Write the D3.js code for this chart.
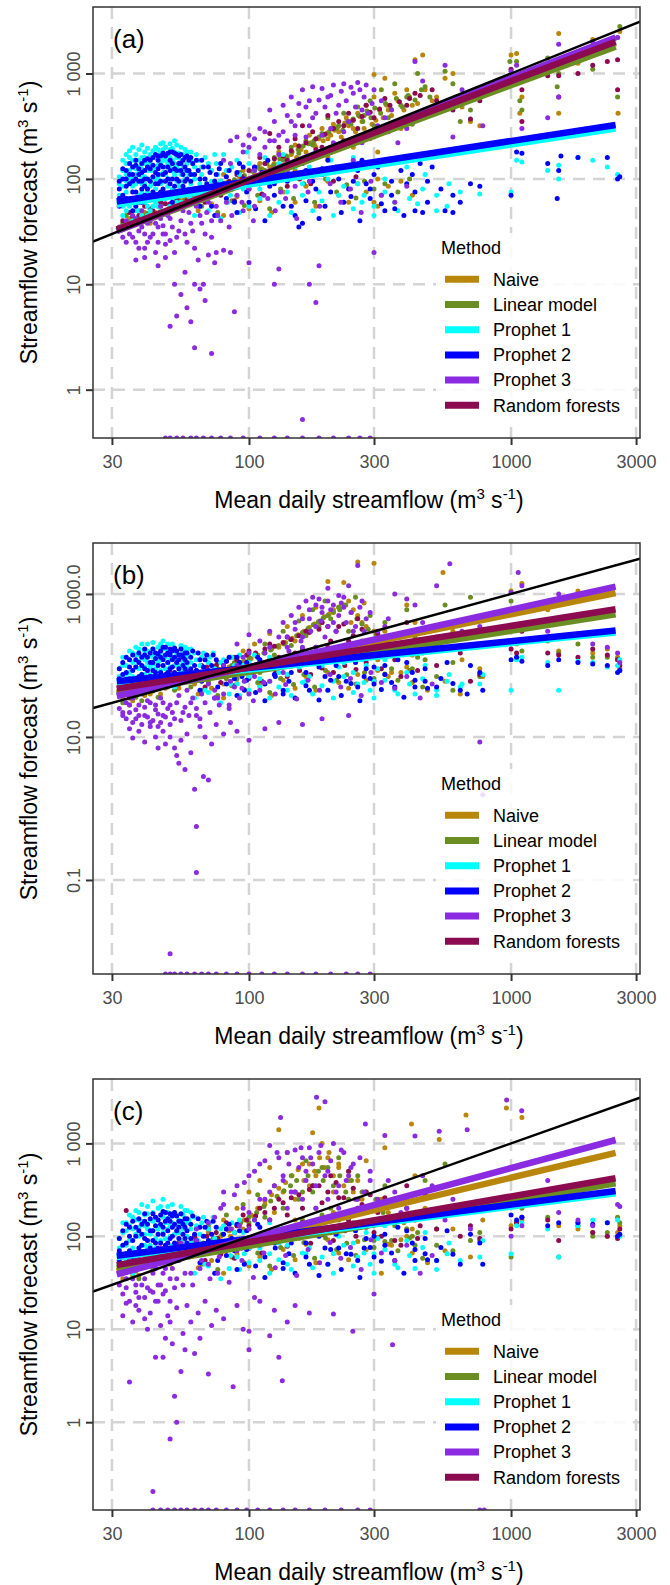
<!DOCTYPE html>
<html>
<head>
<meta charset="utf-8">
<script src="https://d3js.org/d3.v7.min.js"></script>
<style>
  body { margin: 0; background: #fff; }
  text { font-family: "Liberation Sans", Arial, sans-serif; }
</style>
</head>
<body>
<svg id="fig" width="670" height="1585"></svg>
<script>
// ---- categories / ticks ----
var methods = ["Naive", "Linear model", "Prophet 1", "Prophet 2", "Prophet 3", "Random forests"];
var methodColors = ["#B8860B", "#6B8E23", "#00FFFF", "#0000FF", "#8A2BE2", "#8B0A50"];
var drawOrder = [0, 1, 5, 2, 3, 4];

var xTicks = [30, 100, 300, 1000, 3000];
var xTickLabels = ["30", "100", "300", "1000", "3000"];
var yTicksA = [1, 10, 100, 1000], yTickLabelsA = ["1", "10", "100", "1 000"];
var yTicksB = [0.1, 10, 1000], yTickLabelsB = ["0.1", "10.0", "1 000.0"];
var yTicksC = [1, 10, 100, 1000], yTickLabelsC = ["1", "10", "100", "1 000"];

var xDomain = [25.4, 3105];
var yDomainA = [0.348, 4276];
var yDomainB = [0.00484, 5164];
var yDomainC = [0.1135, 4932];

// fitted lines (log-log lm): forecast at x start / x end, method order
var fitX = [31.3, 2506];
var fitA = [[33, 1950], [32, 1800], [57, 300], [61, 325], [32, 2200], [33, 2000]];
var fitB = [[40, 1030], [42, 519], [57, 290], [60, 308], [37.4, 1265], [47.5, 611]];
var fitC = [[42, 790], [45, 373], [60, 290], [61.7, 307], [39, 1088], [49, 422]];

// ---- panel (a) points [mean flow, forecast]; 0 = zero forecast ----
var ptsA_naive = [[33,35],[35,42],[38,40],[40,48],[42,38],[45,55],[48,50],[52,62],[55,58],[60,70],[65,75],[70,66],[75,90],[80,110],[88,95],[95,120],[100,85],[110,140],[120,130],[130,180],[140,160],[150,210],[160,150],[170,260],[180,200],[190,300],[200,240],[210,330],[220,280],[235,380],[250,300],[260,420],[270,350],[280,500],[290,240],[300,600],[300,980],[300,60],[310,55],[310,180],[320,70],[330,900],[340,450],[360,650],[380,300],[400,700],[420,500],[430,1350],[460,1500],[480,420],[520,600],[560,900],[600,1000],[650,480],[700,350],[760,650],[760,320],[1000,1500],[1050,1550],[1080,420],[1100,600],[1380,1200],[1520,2400],[1520,420],[1800,1250],[2050,2100],[2330,1700],[2550,2200],[2560,420],[2600,2500],
  [40,42],[44,48],[50,52],[56,62],[62,65],[68,80],[74,78],[80,90],[85,85],[92,105],[98,100],[105,110],[112,125],[118,115],[125,140],[132,135],[138,150],[145,170],[152,160],[158,190],[165,180],[172,220],[178,210],[185,240],[192,230],[198,270],[205,260],[212,290],[218,310],[225,250],[232,340],[240,320],[248,360],[255,280],[265,390],[275,300],[285,420],[295,330],[305,360],[315,450],[325,380],[335,500],[350,400],[370,550],[390,450],[410,600],[440,520],[470,700],[500,550],[150,120],[200,160],[250,200],[300,250],[350,300],[400,330],
  [64,50],[72,58],[80,45],[90,68],[100,52],[110,62],[122,48],[135,75],[150,60],[165,85],[180,55],[200,95],[220,70],[240,60],[260,90],[280,75],[310,100],[340,85],[380,95],[420,70]];
var ptsA_linear = [[33,38],[34,45],[36,40],[38,50],[40,44],[42,52],[44,46],[47,58],[50,55],[54,65],[58,60],[62,72],[68,80],[72,70],[78,95],[85,88],[92,115],[100,100],[108,130],[115,120],[125,160],[135,150],[145,200],[155,175],[165,230],[175,210],[190,270],[200,380],[215,300],[230,420],[245,330],[260,480],[275,400],[290,550],[300,320],[320,700],[340,380],[360,800],[380,500],[400,600],[420,380],[440,1000],[470,750],[520,450],[560,1050],[600,800],[640,350],[700,450],[760,700],[990,1300],[1050,1300],[1080,550],[1100,450],[1380,1400],[1500,750],[1520,1000],[1800,1500],[2050,1100],[2330,2000],[2550,600],[2600,2800],
  [41,47],[46,55],[52,58],[57,66],[63,70],[69,75],[75,85],[82,92],[88,98],[96,108],[103,118],[110,125],[117,140],[124,135],[131,155],[139,165],[146,180],[154,190],[161,205],[169,215],[177,230],[185,250],[193,260],[202,280],[210,300],[220,320],[228,290],[238,350],[250,370],[262,400],[272,350],[282,440],[292,380],[302,470],[318,420],[332,520],[348,460],[365,580],[385,480],[405,620],[430,560],[455,700],[490,600],[160,140],[210,190],[260,230],[310,280],[360,310],[420,330],
  [66,55],[76,48],[86,62],[96,56],[108,70],[120,52],[132,80],[148,65],[162,90],[178,60],[196,100],[216,75],[236,88],[256,66],[276,95],[300,80],[330,90],[370,75],[410,100]];
var ptsA_p1 = [[32,60],[32,90],[33,45],[33,120],[34,75],[34,140],[35,55],[35,100],[35,160],[36,40],[36,85],[36,130],[37,65],[37,110],[37,170],[38,50],[38,95],[38,150],[39,75],[39,125],[40,60],[40,105],[40,180],[41,45],[41,140],[42,85],[42,120],[43,70],[43,160],[44,100],[44,200],[45,55],[45,135],[46,90],[46,175],[47,115],[47,220],[48,65],[48,150],[49,100],[50,130],[50,190],[51,80],[52,230],[52,110],[53,160],[54,70],[54,140],[55,200],[56,95],[57,120],[58,180],[59,80],[60,150],[61,110],[62,60],[63,170],[65,90],[66,130],[68,160],[70,75],[72,120],[75,140],[78,95],[80,170],[83,60],[86,130],[90,150],[95,80],[98,180],[105,120],[110,65],[115,160],[120,100],[130,140],[140,75],[150,130],[160,90],[175,170],[190,110],[205,150],[220,70],[240,130],[260,90],[280,140],[300,55],[330,100],[360,60],[400,130],[440,58],[470,110],[520,70],[570,55],[640,75],[760,72],[1000,75],[1050,150],[1100,145],[1380,120],[1520,100],[1520,135],[1800,160],[2050,150],[2330,130],[2550,110],
  [32,70],[32,105],[33,55],[33,85],[33,150],[34,50],[34,95],[34,110],[34,170],[35,65],[35,120],[35,185],[36,60],[36,100],[36,150],[36,200],[37,50],[37,90],[37,125],[37,150],[38,70],[38,115],[38,130],[38,190],[39,45],[39,90],[39,105],[39,160],[39,210],[40,70],[40,90],[40,140],[40,160],[41,55],[41,75],[41,120],[41,195],[42,50],[42,100],[42,140],[42,170],[43,55],[43,90],[43,120],[43,185],[44,60],[44,80],[44,130],[44,160],[45,70],[45,100],[45,155],[45,190],[46,50],[46,110],[46,140],[46,215],[47,70],[47,95],[47,150],[47,190],[48,50],[48,110],[48,130],[48,200],[49,70],[49,85],[49,140],[49,170],[50,55],[50,100],[50,160],[50,215],[51,65],[51,120],[51,150],[51,195],[52,75],[52,140],[52,180],[53,60],[53,95],[53,130],[53,210],[54,85],[54,120],[54,175],[55,60],[55,110],[55,150],[56,70],[56,130],[56,170],[57,55],[57,100],[57,190],[58,75],[58,140],[59,110],[59,160],[60,65],[60,90],[60,180],[62,100],[62,130],[64,75],[64,150],[66,110],[68,80],[70,140],[72,95],[74,170],[76,110],[82,120],[88,90],[92,110],[100,140],[108,90],[125,110],[135,170],[145,100],[170,130],[185,75],[200,100],[230,120],[250,160],[270,60],
  [62,45],[70,50],[78,42],[85,70],[92,48],[100,55],[110,80],[120,45],[130,60],[145,48],[160,70],[175,50],[190,62],[210,45],[230,85],[250,52],[275,70],[300,45],[330,75],[370,50],[410,65],[460,80],[520,50],[580,90]];
var ptsA_p2 = [[32,55],[32,80],[33,100],[34,65],[34,120],[35,90],[36,50],[36,110],[37,75],[37,135],[38,95],[39,60],[39,115],[40,85],[40,150],[41,100],[42,70],[42,125],[43,160],[44,90],[45,165],[45,110],[46,75],[47,170],[47,130],[48,95],[49,175],[50,120],[50,180],[51,60],[52,175],[53,100],[54,140],[55,170],[56,85],[57,160],[58,120],[59,150],[60,95],[61,140],[62,75],[64,120],[66,150],[68,100],[70,130],[72,55],[75,110],[78,140],[80,90],[84,120],[88,60],[92,140],[96,100],[100,60],[105,130],[110,90],[118,150],[125,70],[135,110],[145,55],[155,35],[160,38],[165,120],[180,80],[195,55],[210,120],[230,60],[250,95],[270,150],[290,65],[300,110],[330,50],[360,52],[400,90],[430,50],[460,48],[500,130],[560,50],[600,48],[640,60],[700,90],[760,85],[1000,70],[1050,180],[1100,175],[1380,140],[1500,65],[1520,120],[1550,165],[1800,160],[2330,160],[2550,100],[2600,105],
  [32,65],[32,95],[33,70],[33,125],[34,85],[34,100],[35,60],[35,110],[35,140],[36,75],[36,95],[36,130],[37,55],[37,100],[37,150],[38,60],[38,110],[38,125],[39,80],[39,95],[39,140],[40,70],[40,100],[40,120],[41,80],[41,130],[41,155],[42,95],[42,150],[43,75],[43,105],[43,135],[44,65],[44,115],[44,170],[45,90],[45,125],[45,150],[46,95],[46,135],[46,165],[47,80],[47,110],[47,175],[48,115],[48,165],[49,100],[49,130],[50,90],[50,150],[51,100],[51,140],[51,180],[52,85],[52,125],[53,120],[53,170],[54,95],[54,165],[55,120],[55,140],[56,110],[56,150],[57,95],[57,130],[58,100],[58,165],[59,120],[60,110],[60,160],[62,110],[63,150],[65,100],[67,130],[69,90],[71,115],[74,95],[77,125],[82,105],[86,80],[90,115],[95,130],[102,100],[112,115],[120,85],[130,125],[140,95],[150,140],[160,110],[175,95],[190,125],[200,150],[220,100],[240,80],[260,120],[280,90],[310,130],[350,95],[380,120],[420,110],[450,140],[480,95],
  [65,55],[74,45],[82,65],[90,48],[98,75],[106,52],[115,40],[125,90],[135,55],[150,45],[165,62],[185,42],[205,75],[225,48],[245,68],[265,40],[290,80],[320,58],[350,70],[390,45],[430,75],[480,60],[540,80],[600,70]];
var ptsA_p3 = [[32,35],[33,28],[34,40],[35,30],[36,45],[37,25],[38,32],[39,50],[40,22],[41,38],[42,28],[43,45],[44,20],[45,35],[46,55],[47,30],[48,24],[50,42],[52,20],[54,32],[56,50],[58,25],[60,38],[62,22],[65,45],[68,30],[70,60],[72,40],[37,17],[40,18],[45,15],[48,18],[50,4],[52,10],[53,5],[55,8],[57,13],[58,6],[60,4.4],[62,2.5],[62,10],[64,17],[65,9],[67,10],[68,7],[70,19],[72,2.2],[74,16],[75,20],[80,21],[85,20],[88,5.5],[100,16],[125,10],[130,14],[170,10],[180,6.7],[185,15],[300,20],[160,0.52],[75,80],[80,150],[85,230],[90,250],[95,180],[100,260],[105,120],[110,300],[115,200],[120,450],[125,350],[130,260],[135,500],[140,400],[145,600],[150,320],[155,520],[160,700],[165,250],[170,550],[175,750],[180,420],[190,720],[200,600],[205,300],[210,780],[220,500],[230,800],[240,350],[250,650],[260,820],[270,450],[280,780],[290,250],[300,700],[320,550],[330,380],[350,450],[380,150],[400,300],[430,1300],[460,850],[500,450],[560,1200],[600,250],[650,700],[700,190],[780,320],[1000,1050],[1050,1200],[1100,300],[1380,380],[1520,1900],[1520,600],[2050,2000],[2330,1800],[2550,2200],[48,0],[50,0],[53,0],[56,0],[60,0],[63,0],[67,0],[72,0],[78,0],[85,0],[95,0],[110,0],[125,0],[140,0],[160,0],[185,0],[210,0],[240,0],[265,0],[290,0],
  [33,33],[34,25],[35,38],[36,28],[37,42],[38,22],[39,35],[40,30],[41,25],[42,40],[43,30],[44,38],[45,25],[46,42],[47,36],[48,30],[49,45],[50,26],[51,35],[53,28],[55,40],[57,30],[59,48],[61,32],[63,55],[66,38],[69,48],[72,28],[75,55],[78,40],[82,60],[86,45],[90,70],[95,50],[100,80],[105,55],[110,90],[118,65],[125,100],[132,75],[140,120],[150,85],[160,140],[170,95],[180,160],[190,110],[200,180],[215,130],[230,200],[250,150],[270,220],[85,140],[95,210],[105,240],[115,280],[125,230],[135,280],[145,350],[155,400],[165,480],[175,380],[185,560],[195,480],[205,620],[215,420],[225,680],[235,550],[245,740],[255,480],[265,700],[275,600],[285,420],[295,520],[310,320],[340,280],[370,220],[150,260],[170,320],[190,260],[210,220],[230,280],[100,200],[110,170],[120,230],[130,170],[140,230],
  [76,45],[84,35],[94,60],[104,40],[114,70],[126,50],[138,65],[152,42],[168,75],[186,55],[204,90],[224,60],[244,80],[268,48],[292,95],[320,70],[360,60],[400,85]];
var ptsA_rf = [[33,40],[35,48],[38,45],[40,55],[43,50],[46,60],[50,58],[55,70],[60,66],[65,80],[72,85],[80,75],[90,110],[100,120],[110,160],[120,270],[130,200],[140,150],[150,240],[160,320],[175,280],[190,200],[200,400],[220,350],[240,420],[260,300],[280,500],[300,380],[330,580],[360,330],[400,500],[430,650],[460,400],[520,550],[600,450],[700,370],[760,550],[1000,1100],[1100,700],[1100,350],[1380,950],[1520,600],[1520,950],[1800,1000],[2050,1200],[2330,1300],[2550,1350],[2550,700],
  [36,44],[42,52],[48,58],[53,64],[58,62],[63,74],[68,78],[76,88],[84,95],[94,105],[105,125],[115,140],[125,155],[135,165],[145,185],[155,205],[165,220],[180,240],[195,265],[210,300],[230,320],[250,360],[270,390],[290,430],[315,460],[345,500],[375,540],[410,580],[450,620],[500,700],[180,190],[230,230],[280,270],
  [68,60],[78,70],[88,62],[100,80],[112,72],[126,95],[140,85],[156,100],[172,90],[190,110],[210,95],[232,120],[256,105],[280,130]];

// ---- panel (b) points ----
var ptsB_naive = [[33,35],[35,28],[38,45],[40,38],[43,55],[46,40],[50,60],[54,48],[58,70],[62,55],[66,80],[70,60],[75,100],[80,70],[85,130],[90,95],[95,160],[100,75],[105,200],[110,120],[120,280],[130,180],[140,350],[150,220],[160,500],[170,300],[180,650],[190,400],[200,1500],[210,550],[230,1450],[245,400],[260,2800],[275,750],[300,2700],[310,120],[330,300],[360,200],[400,700],[430,400],[460,150],[520,250],[550,2000],[600,300],[650,120],[700,450],[760,90],[780,70],[1000,1100],[1050,200],[1100,1400],[1380,600],[1520,160],[1800,1100],[2050,150],[2330,170],[2550,130],[2600,90],
  [36,32],[42,40],[48,48],[54,56],[60,62],[66,70],[72,78],[78,88],[84,95],[90,105],[96,115],[102,125],[108,140],[115,150],[122,170],[130,190],[138,210],[146,240],[154,270],[162,300],[170,340],[178,380],[186,420],[194,480],[202,520],[210,600],[220,650],[230,700],[240,800],[250,600],[260,500],[270,400],[280,350],[300,300],[320,250],[340,220],[360,180],[390,160],[420,140],[150,100],[180,130],[210,160],[240,200],[270,180],[120,90],[100,70],[80,55],[350,80],[400,95],[450,200],
  [64,40],[72,48],[80,35],[90,56],[100,42],[110,52],[122,38],[135,62],[150,48],[165,70],[180,45],[200,80],[220,58],[240,48],[260,75],[280,62],[310,85],[340,70],[380,80],[420,58],[480,45],[560,60],[640,40]];
var ptsB_linear = [[33,30],[36,38],[39,32],[42,48],[45,36],[48,55],[52,45],[56,62],[60,50],[65,72],[70,58],[76,90],[82,65],[88,110],[95,85],[100,130],[108,95],[115,200],[125,140],[135,300],[145,190],[155,420],[165,260],[175,600],[185,350],[195,800],[205,450],[220,650],[240,300],[255,900],[270,220],[290,500],[300,150],[330,400],[360,140],[400,600],[430,250],[470,120],[520,200],[560,700],[600,110],[650,180],[700,900],[760,70],[1000,800],[1050,130],[1100,160],[1380,220],[1520,150],[1800,200],[2050,130],[2330,130],[2550,120],[2600,85],
  [37,36],[43,44],[49,50],[55,58],[61,64],[67,72],[73,80],[79,86],[86,100],[93,110],[100,120],[107,135],[114,150],[121,165],[128,185],[136,200],[144,230],[152,260],[160,290],[168,330],[176,370],[184,410],[192,460],[200,500],[210,560],[222,600],[234,700],[246,550],[258,450],[270,380],[285,320],[305,270],[325,230],[345,190],[370,170],[400,150],[440,130],[130,100],[160,130],[190,150],[220,170],[250,190],[110,80],[90,65],[350,90],[420,90],
  [66,45],[76,38],[86,52],[96,46],[108,58],[120,42],[132,66],[148,54],[162,75],[178,50],[196,85],[216,62],[236,74],[256,55],[276,80],[300,66],[330,76],[370,62],[410,85],[460,50],[520,70],[600,45]];
var ptsB_p1 = [[32,40],[32,70],[33,100],[34,55],[34,130],[35,80],[35,160],[36,45],[36,110],[37,65],[37,180],[38,90],[38,140],[39,55],[39,200],[40,75],[40,120],[41,160],[42,50],[42,95],[43,130],[43,210],[44,70],[45,110],[45,180],[46,60],[47,140],[47,220],[48,90],[49,160],[50,70],[50,120],[51,200],[52,50],[53,150],[54,100],[55,190],[56,80],[57,130],[58,170],[59,60],[60,110],[62,150],[64,80],[66,130],[68,45],[70,110],[73,150],[76,70],[80,120],[84,40],[88,100],[92,140],[96,60],[100,110],[110,50],[120,130],[130,80],[140,45],[150,110],[165,60],[180,130],[200,45],[220,95],[240,150],[260,55],[280,100],[300,60],[330,120],[360,45],[400,80],[430,40],[470,100],[520,45],[570,60],[640,50],[760,55],[780,75],[1000,45],[1050,120],[1100,130],[1380,110],[1520,45],[1800,115],[2050,110],[2330,95],[2550,100],[2600,120],
  [32,55],[32,90],[33,45],[33,130],[34,75],[34,100],[35,50],[35,120],[36,70],[36,150],[37,45],[37,95],[37,140],[38,60],[38,115],[38,170],[39,75],[39,135],[40,50],[40,95],[40,160],[41,70],[41,110],[41,200],[42,75],[42,140],[43,55],[43,105],[43,170],[44,90],[44,150],[45,60],[45,140],[46,85],[46,120],[46,200],[47,60],[47,100],[47,170],[48,70],[48,130],[49,55],[49,110],[49,200],[50,95],[50,150],[51,75],[51,130],[52,100],[52,170],[53,70],[53,120],[54,60],[54,140],[55,85],[55,130],[56,110],[56,160],[57,70],[57,180],[58,95],[58,130],[59,140],[60,80],[60,170],[62,70],[63,120],[65,100],[67,150],[69,70],[71,130],[74,90],[78,110],[82,75],[86,130],[90,55],[95,100],[100,70],[105,140],[112,90],[120,60],[130,110],[140,75],[155,95],[170,70],[190,100],[210,60],[230,110],[250,80],[270,120],[290,45],[310,90],
  [62,35],[70,42],[78,30],[85,55],[92,38],[100,45],[110,65],[120,35],[130,50],[145,38],[160,58],[175,40],[190,52],[210,35],[230,70],[250,42],[275,58],[300,35],[330,62],[370,40],[410,55],[460,65],[520,38],[580,75],[650,55]];
var ptsB_p2 = [[32,50],[33,75],[34,60],[35,95],[36,50],[37,120],[38,70],[39,100],[40,140],[41,60],[42,110],[43,85],[44,150],[45,70],[46,160],[47,100],[48,180],[49,80],[50,170],[51,120],[52,175],[53,65],[54,140],[55,170],[56,100],[57,150],[58,80],[60,130],[62,100],[64,150],[66,60],[68,120],[70,85],[73,140],[76,50],[80,100],[84,130],[88,65],[92,110],[96,45],[100,90],[108,130],[115,55],[125,100],[135,40],[145,80],[155,120],[170,45],[185,95],[200,45],[220,70],[240,120],[260,50],[280,90],[300,55],[330,100],[360,50],[400,110],[430,50],[470,90],[520,50],[570,110],[640,45],[700,100],[760,80],[780,45],[1000,120],[1050,130],[1100,115],[1380,100],[1520,120],[1800,110],[2050,105],[2330,100],[2550,80],[2600,85],
  [32,65],[32,90],[33,55],[33,110],[34,80],[34,130],[35,65],[35,120],[36,85],[36,140],[37,60],[37,95],[38,110],[38,150],[39,75],[39,130],[40,90],[40,170],[41,85],[41,130],[42,70],[42,150],[43,110],[43,170],[44,80],[44,125],[45,100],[45,145],[46,80],[46,130],[47,120],[47,180],[48,75],[48,140],[49,110],[49,150],[50,90],[50,140],[51,95],[51,160],[52,80],[52,130],[53,110],[53,160],[54,90],[54,120],[55,75],[55,140],[56,130],[57,90],[57,120],[58,110],[58,150],[60,90],[61,160],[63,85],[65,120],[67,95],[69,140],[72,100],[75,120],[78,80],[82,115],[86,90],[90,130],[94,70],[98,110],[104,80],[110,120],[118,95],[126,70],[134,115],[142,60],[150,100],[165,80],[180,110],[195,70],[215,100],[235,60],[255,110],[275,70],[300,95],[330,75],[370,120],[420,80],[470,60],
  [65,45],[74,35],[82,55],[90,38],[98,62],[106,42],[115,32],[125,75],[135,45],[150,35],[165,52],[185,33],[205,62],[225,38],[245,56],[265,32],[290,66],[320,46],[350,58],[390,36],[430,62],[480,48],[540,66],[600,56],[680,40]];
var ptsB_p3 = [[32,25],[33,20],[34,30],[35,22],[36,35],[37,18],[38,28],[39,40],[40,20],[41,32],[42,16],[43,45],[44,24],[45,14],[46,35],[47,20],[48,50],[50,28],[52,18],[54,38],[56,22],[58,45],[60,30],[63,20],[66,40],[70,55],[74,35],[78,70],[35,13],[36,9.7],[38,12],[40,8.5],[42,14],[44,10],[45,7],[47,12],[48,8],[50,10],[52,7],[53,5.5],[54,4.3],[55,9],[57,3.5],[58,11],[60,6],[62,1.86],[63,0.56],[63,0.127],[65,14],[67,2.8],[68,10],[70,2.5],[72,8],[75,15],[80,11],[85,16],[90,12],[100,9],[115,13],[130,16],[160,15],[190,18],[240,20],[50,0.0093],[780,1.55],[760,8.5],[80,100],[85,60],[90,200],[95,130],[100,270],[105,90],[110,220],[115,150],[120,300],[125,110],[130,250],[135,400],[140,180],[145,500],[150,320],[155,650],[160,250],[165,800],[170,450],[175,900],[180,350],[185,850],[190,550],[200,1200],[210,400],[220,950],[230,650],[240,1300],[250,300],[260,2500],[270,800],[280,450],[300,200],[330,350],[360,1000],[400,850],[430,700],[460,400],[520,1300],[560,250],[584,2650],[650,300],[700,180],[760,350],[1000,1050],[1065,2000],[1100,1300],[1380,300],[1520,1000],[1800,900],[2050,200],[2330,180],[2550,150],[2600,110],[48,0],[50,0],[52,0],[55,0],[58,0],[62,0],[66,0],[70,0],[75,0],[82,0],[90,0],[100,0],[112,0],[125,0],[140,0],[160,0],[180,0],[205,0],[235,0],[260,0],[290,0],
  [33,22],[34,18],[35,28],[36,16],[37,24],[38,20],[39,15],[40,26],[41,19],[42,30],[43,17],[44,28],[45,21],[46,16],[47,30],[48,19],[49,25],[50,15],[51,22],[53,30],[55,17],[57,26],[59,20],[61,35],[63,25],[65,18],[68,30],[71,22],[74,45],[77,28],[80,40],[84,25],[88,50],[92,35],[96,60],[100,40],[105,70],[110,45],[115,90],[120,60],[128,120],[135,80],[142,160],[150,100],[158,220],[165,130],[172,300],[180,180],[188,420],[195,250],[205,600],[215,300],[225,750],[235,400],[245,550],[255,350],[265,650],[275,300],[290,550],[310,300],[340,450],[380,250],[150,400],[160,450],[170,600],[180,700],[190,650],[200,800],[210,700],[220,500],[230,900],[160,180],[200,350],[140,250],[120,180],[100,150],[90,100],
  [76,35],[84,28],[94,48],[104,32],[114,58],[126,40],[138,54],[152,34],[168,62],[186,45],[204,75],[224,50],[244,66],[268,38],[292,80],[320,58],[360,48],[400,70],[450,35],[500,55]];
var ptsB_rf = [[33,45],[35,35],[38,60],[40,42],[43,70],[46,50],[50,80],[54,55],[58,90],[62,65],[66,100],[70,75],[76,110],[82,85],[88,130],[95,95],[100,160],[110,110],[120,200],[130,130],[140,250],[150,150],[165,300],[180,180],[190,400],[205,220],[220,350],[240,140],[260,450],[280,160],[300,60],[330,250],[360,120],[400,400],[430,180],[470,300],[520,100],[570,350],[640,150],[700,60],[760,75],[1000,170],[1050,150],[1100,300],[1380,150],[1520,140],[1800,130],[2050,170],[2330,140],[2550,120],[2600,100],
  [37,50],[42,58],[47,66],[52,72],[57,78],[63,85],[69,95],[75,100],[82,115],[90,120],[98,140],[106,150],[115,170],[125,185],[135,210],[145,230],[155,260],[170,290],[185,320],[200,350],[215,300],[230,380],[250,260],[270,320],[290,220],[310,280],[340,200],[370,260],[400,170],[450,230],[120,120],[160,170],[200,180],[240,220],
  [68,50],[78,58],[88,52],[100,66],[112,60],[126,78],[140,70],[156,85],[172,75],[190,92],[210,80],[232,100],[256,88],[280,110],[320,90],[380,70],[440,85]];

// ---- panel (c) points ----
var ptsC_naive = [[33,35],[35,45],[38,38],[40,55],[43,42],[46,65],[50,50],[54,75],[58,60],[62,90],[66,70],[70,110],[75,80],[80,150],[85,100],[90,200],[95,120],[100,300],[105,160],[110,400],[115,220],[120,550],[125,180],[130,1400],[135,300],[140,800],[150,250],[160,600],[170,350],[175,1300],[180,450],[185,2400],[190,1000],[200,700],[210,300],[220,550],[240,400],[260,200],[280,650],[300,150],[320,40],[330,900],[360,250],[400,120],[417,1620],[430,450],[470,200],[532,1100],[560,350],[600,120],[673,2020],[700,60],[760,90],[780,150],[960,2400],[1000,130],[1100,1900],[1100,150],[1380,300],[1520,130],[1800,120],[2050,110],[2330,100],[2550,110],[2600,130],
  [36,38],[42,48],[48,55],[54,64],[60,70],[66,80],[72,90],[78,100],[84,115],[90,130],[96,150],[102,170],[108,200],[115,240],[122,280],[130,330],[138,380],[146,450],[154,520],[162,400],[170,600],[178,500],[186,700],[194,550],[202,800],[210,450],[220,600],[230,350],[240,500],[250,300],[260,400],[270,250],[280,300],[300,200],[320,250],[340,180],[360,160],[390,140],[420,120],[150,150],[180,200],[210,180],[240,150],[270,130],[120,110],[100,90],[80,70],[350,80],[400,100],[450,180],
  [64,46],[72,55],[80,40],[90,64],[100,48],[110,60],[122,44],[135,72],[150,56],[165,82],[180,52],[200,92],[220,66],[240,56],[260,88],[280,72],[310,98],[340,82],[380,92],[420,66],[480,52],[560,70]];
var ptsC_linear = [[33,40],[35,50],[38,35],[40,60],[43,45],[46,70],[50,55],[54,85],[58,65],[62,100],[66,75],[70,130],[76,90],[82,170],[88,110],[95,220],[100,140],[108,280],[115,160],[125,350],[135,200],[145,450],[155,250],[165,650],[175,300],[190,550],[205,200],[220,700],[240,250],[260,450],[280,180],[300,90],[330,350],[360,130],[400,250],[430,80],[470,400],[520,120],[560,600],[600,70],[650,180],[700,90],[760,110],[1000,60],[1050,140],[1100,200],[1380,160],[1520,60],[1800,140],[2050,100],[2330,110],[2550,160],[2600,140],
  [37,42],[43,52],[49,58],[55,68],[61,76],[67,85],[73,95],[79,105],[86,120],[93,140],[100,160],[107,180],[114,210],[121,240],[128,270],[136,310],[144,350],[152,400],[160,300],[168,450],[176,350],[184,500],[192,400],[200,550],[210,350],[222,450],[234,300],[246,400],[258,250],[270,300],[285,200],[305,250],[325,180],[345,150],[370,160],[400,120],[440,110],[130,120],[160,150],[190,170],[220,150],[250,140],[110,100],[90,80],[350,90],[420,100],
  [66,50],[76,44],[86,60],[96,52],[108,66],[120,48],[132,76],[148,62],[162,86],[178,58],[196,96],[216,72],[236,84],[256,62],[276,92],[300,76],[330,88],[370,70],[410,96],[460,58],[520,80]];
var ptsC_p1 = [[32,45],[32,75],[33,110],[34,55],[34,140],[35,90],[35,170],[36,40],[36,120],[37,65],[37,190],[38,100],[38,150],[39,55],[39,220],[40,80],[40,130],[41,175],[42,60],[42,105],[43,145],[43,240],[44,75],[45,120],[45,200],[46,65],[47,160],[47,250],[48,95],[49,180],[50,75],[50,130],[51,220],[52,55],[53,170],[54,110],[55,210],[56,85],[57,140],[58,190],[59,65],[60,120],[62,160],[64,90],[66,140],[68,50],[70,120],[73,160],[76,75],[80,130],[84,45],[88,110],[92,150],[96,65],[100,120],[110,55],[120,140],[130,85],[140,50],[150,120],[165,65],[180,140],[200,50],[220,100],[240,160],[260,60],[280,110],[300,65],[330,130],[360,50],[400,90],[430,45],[470,110],[520,55],[570,65],[640,55],[760,60],[780,90],[1000,65],[1050,130],[1100,140],[1380,120],[1520,60],[1800,130],[2050,150],[2330,140],[2550,150],[2600,100],
  [32,60],[32,95],[33,50],[33,140],[34,80],[34,115],[35,60],[35,130],[36,75],[36,160],[37,50],[37,105],[37,150],[38,65],[38,125],[38,180],[39,80],[39,145],[40,55],[40,105],[40,170],[41,75],[41,120],[41,210],[42,80],[42,150],[43,60],[43,115],[43,180],[44,95],[44,160],[45,65],[45,150],[46,90],[46,130],[46,210],[47,65],[47,110],[47,180],[48,75],[48,140],[49,60],[49,120],[49,210],[50,100],[50,160],[51,80],[51,140],[52,105],[52,180],[53,75],[53,130],[54,65],[54,150],[55,90],[55,140],[56,120],[56,170],[57,75],[57,190],[58,100],[58,140],[59,150],[60,85],[60,180],[62,75],[63,130],[65,105],[67,160],[69,75],[71,140],[74,95],[78,120],[82,80],[86,140],[90,60],[95,110],[100,75],[105,150],[112,95],[120,65],[130,120],[140,80],[155,100],[170,75],[190,110],[210,65],[230,120],[250,85],[270,130],[290,50],[310,95],
  [62,40],[70,48],[78,35],[85,62],[92,44],[100,52],[110,75],[120,40],[130,56],[145,44],[160,66],[175,46],[190,60],[210,40],[230,80],[250,48],[275,66],[300,40],[330,72],[370,46],[410,62],[460,76],[520,44],[580,85]];
var ptsC_p2 = [[32,55],[33,80],[34,65],[35,100],[36,55],[37,125],[38,75],[39,105],[40,145],[41,65],[42,115],[43,90],[44,160],[45,75],[46,170],[47,105],[48,180],[49,85],[50,175],[51,125],[52,180],[53,70],[54,145],[55,175],[56,105],[57,155],[58,85],[60,135],[62,105],[64,155],[66,65],[68,125],[70,90],[73,145],[76,55],[80,105],[84,135],[88,70],[92,115],[96,50],[100,95],[108,135],[115,60],[125,105],[135,45],[145,85],[155,125],[170,50],[185,100],[200,50],[220,75],[240,125],[260,55],[280,95],[300,60],[330,105],[360,55],[400,115],[430,55],[470,95],[520,55],[570,115],[640,50],[700,105],[760,85],[780,50],[1000,170],[1050,150],[1100,160],[1380,130],[1520,140],[1800,140],[2050,135],[2330,140],[2550,100],[2600,105],
  [32,70],[32,95],[33,60],[33,115],[34,85],[34,135],[35,70],[35,125],[36,90],[36,145],[37,65],[37,100],[38,115],[38,155],[39,80],[39,135],[40,95],[40,175],[41,90],[41,135],[42,75],[42,155],[43,115],[43,175],[44,85],[44,130],[45,105],[45,150],[46,85],[46,135],[47,125],[47,185],[48,80],[48,145],[49,115],[49,155],[50,95],[50,145],[51,100],[51,165],[52,85],[52,135],[53,115],[53,165],[54,95],[54,125],[55,80],[55,145],[56,135],[57,95],[57,125],[58,115],[58,155],[60,95],[61,165],[63,90],[65,125],[67,100],[69,145],[72,105],[75,125],[78,85],[82,120],[86,95],[90,135],[94,75],[98,115],[104,85],[110,125],[118,100],[126,75],[134,120],[142,65],[150,105],[165,85],[180,115],[195,75],[215,105],[235,65],[255,115],[275,75],[300,100],[330,80],[370,125],[420,85],[470,65],
  [65,52],[74,40],[82,62],[90,44],[98,72],[106,48],[115,36],[125,85],[135,52],[150,40],[165,60],[185,38],[205,72],[225,44],[245,64],[265,36],[290,76],[320,54],[350,66],[390,40],[430,72],[480,56],[540,76],[600,64]];
var ptsC_p3 = [[32,30],[33,45],[34,28],[35,55],[36,35],[37,25],[38,60],[39,30],[40,22],[41,50],[42,26],[43,40],[44,20],[45,65],[46,30],[47,24],[48,45],[50,35],[52,28],[54,55],[56,30],[58,70],[60,40],[63,90],[66,55],[70,140],[74,75],[78,200],[33,14],[34,19],[35,2.7],[36,12],[37,18],[38,16],[40,13],[41,10],[42,15],[43,0.18],[44,5],[45,20],[46,11],[47,5],[48,8],[49,14],[50,0.66],[50,12],[51,7],[52,1.9],[53,1.0],[53,17],[55,3.5],[56,9],[57,6],[58,18],[60,12],[62,5.5],[64,15],[65,8],[68,20],[70,3.3],[72,11],[75,16],[80,13],[87,2.4],[90,18],[95,10],[100,6],[100,9.5],[105,22],[110,20],[120,8.5],[125,16],[130,5],[134,2.8],[140,12],[150,18],[170,15],[210,14.6],[249,9.5],[353,6.8],[300,24],[80,300],[85,120],[90,350],[95,200],[100,450],[105,150],[110,600],[115,250],[120,950],[125,350],[130,700],[132,1900],[135,450],[140,800],[145,300],[150,850],[155,550],[160,700],[165,400],[170,900],[175,600],[181,3140],[185,800],[195,2800],[200,500],[210,1000],[220,350],[230,800],[240,450],[250,600],[260,250],[278,1620],[290,400],[300,150],[330,1220],[360,300],[400,200],[430,1200],[460,450],[500,350],[532,1350],[560,150],[600,250],[680,1400],[700,120],[780,200],[962,2940],[1000,100],[1098,2250],[1100,130],[1380,400],[1520,180],[1800,150],[2050,130],[2550,220],[2600,210],[43,0],[46,0],[49,0],[52,0],[55,0],[58,0],[62,0],[66,0],[70,0],[75,0],[82,0],[90,0],[98,0],[108,0],[120,0],[135,0],[150,0],[170,0],[195,0],[225,0],[260,0],[290,0],[760,0],[790,0],
  [33,24],[34,35],[35,20],[36,45],[37,30],[38,22],[39,50],[40,35],[41,28],[42,60],[43,25],[44,45],[45,30],[46,75],[47,40],[48,26],[49,55],[50,20],[51,45],[53,35],[55,85],[57,40],[59,60],[61,30],[63,120],[65,45],[68,80],[71,35],[74,160],[77,60],[80,220],[84,90],[88,280],[92,130],[96,380],[100,180],[105,500],[110,250],[115,650],[120,300],[128,800],[135,400],[142,600],[150,300],[158,900],[165,500],[172,700],[180,350],[188,950],[195,450],[205,650],[215,300],[225,850],[235,400],[245,550],[255,250],[265,700],[275,300],[290,500],[310,250],[340,400],[380,180],[100,120],[120,150],[140,200],[160,250],[180,200],[200,250],[220,200],[240,180],[130,90],[150,110],[110,80],[90,70],[70,50],
  [76,40],[84,32],[94,55],[104,36],[114,66],[126,46],[138,62],[152,38],[168,72],[186,52],[204,86],[224,58],[244,76],[268,44],[292,92],[320,66],[360,55],[400,80],[450,40],[500,62]];
var ptsC_rf = [[33,45],[34,190],[35,55],[38,48],[40,65],[43,55],[46,75],[50,60],[54,85],[58,70],[62,100],[66,80],[70,120],[76,95],[82,140],[88,110],[95,170],[100,130],[110,200],[120,150],[130,250],[140,170],[150,300],[160,200],[175,350],[190,230],[205,450],[220,260],[240,500],[260,200],[280,300],[300,110],[330,260],[360,90],[400,350],[430,150],[470,280],[520,120],[570,200],[640,100],[700,130],[760,95],[1000,120],[1050,140],[1100,160],[1380,150],[1520,90],[1800,130],[2050,110],[2330,100],[2550,95],[2600,120],
  [37,55],[42,62],[47,70],[52,78],[57,85],[63,92],[69,100],[75,110],[82,120],[90,130],[98,150],[106,165],[115,180],[125,200],[135,230],[145,260],[155,280],[170,320],[185,350],[200,300],[215,380],[230,260],[250,330],[270,220],[290,280],[310,180],[340,220],[370,150],[400,200],[450,130],[120,100],[160,140],[200,160],[240,150],
  [68,55],[78,64],[88,58],[100,74],[112,66],[126,88],[140,78],[156,96],[172,84],[190,104],[210,90],[232,115],[256,100],[280,125],[320,100],[380,80],[440,95]];

var ptsA = [ptsA_naive, ptsA_linear, ptsA_p1, ptsA_p2, ptsA_p3, ptsA_rf];
var ptsB = [ptsB_naive, ptsB_linear, ptsB_p1, ptsB_p2, ptsB_p3, ptsB_rf];
var ptsC = [ptsC_naive, ptsC_linear, ptsC_p1, ptsC_p2, ptsC_p3, ptsC_rf];

var svg = d3.select("#fig");
var L = 93, R = 640, H = 431;

function unitTitle(sel, label) {
  sel.text(label + " (m");
  sel.append("tspan").attr("dy", -9).attr("font-size", 15).text("3");
  sel.append("tspan").attr("dy", 9).text(" s");
  sel.append("tspan").attr("dy", -9).attr("font-size", 15).text("-1");
  sel.append("tspan").attr("dy", 9).text(")");
}

function drawPanel(top, tag, yDomain, yTicks, yLabels, pts, fits) {
  var x = d3.scaleLog().domain(xDomain).range([L, R]);
  var y = d3.scaleLog().domain(yDomain).range([top + H, top]);
  var clipId = "clip-" + tag;
  svg.append("clipPath").attr("id", clipId)
    .append("rect").attr("x", L).attr("y", top).attr("width", R - L).attr("height", H);

  var g = svg.append("g");
  // dashed grid
  g.selectAll(".gx").data(xTicks).enter().append("line")
    .attr("x1", d => x(d)).attr("x2", d => x(d)).attr("y1", top).attr("y2", top + H)
    .attr("stroke", "#d4d4d4").attr("stroke-width", 2.5).attr("stroke-dasharray", "12,8");
  g.selectAll(".gy").data(yTicks).enter().append("line")
    .attr("x1", L).attr("x2", R).attr("y1", d => y(d)).attr("y2", d => y(d))
    .attr("stroke", "#d4d4d4").attr("stroke-width", 2.5).attr("stroke-dasharray", "12,8");

  // points
  var pg = g.append("g").attr("clip-path", "url(#" + clipId + ")");
  drawOrder.forEach(function (m) {
    pg.append("g").selectAll("circle").data(pts[m]).enter().append("circle")
      .attr("cx", d => x(d[0]))
      .attr("cy", d => d[1] > 0 ? y(d[1]) : top + H)
      .attr("r", 2.5)
      .attr("fill", methodColors[m]);
  });

  // regression lines
  var line = d3.line().x(d => x(d[0])).y(d => y(d[1]));
  var lg = g.append("g").attr("clip-path", "url(#" + clipId + ")");
  fits.forEach(function (f, m) {
    lg.append("path")
      .attr("d", line([[fitX[0], f[0]], [fitX[1], f[1]]]))
      .attr("stroke", methodColors[m]).attr("stroke-width", 6.5).attr("fill", "none");
  });
  // 1:1 line
  lg.append("path").attr("d", line([[xDomain[0], xDomain[0]], [xDomain[1], xDomain[1]]]))
    .attr("stroke", "#000").attr("stroke-width", 2.5).attr("fill", "none");

  // legend
  var leg = g.append("g").attr("transform", "translate(0," + top + ")");
  leg.append("rect").attr("x", 436).attr("y", 226).attr("width", 189).attr("height", 188)
    .attr("fill", "#fff").attr("opacity", 0.85);
  leg.append("text").attr("x", 441).attr("y", 247).attr("font-size", 18).text("Method");
  methods.forEach(function (name, i) {
    var ry = 272.3 + i * 25.2;
    leg.append("line").attr("x1", 445).attr("x2", 479).attr("y1", ry).attr("y2", ry)
      .attr("stroke", methodColors[i]).attr("stroke-width", 7);
    leg.append("text").attr("x", 493).attr("y", ry).attr("dy", "0.35em")
      .attr("font-size", 18).text(name);
  });

  // panel box
  g.append("rect").attr("x", L).attr("y", top).attr("width", R - L).attr("height", H)
    .attr("fill", "none").attr("stroke", "#333").attr("stroke-width", 1.5);

  // axes
  var ax = g.append("g").attr("transform", "translate(0," + (top + H) + ")")
    .call(d3.axisBottom(x).tickValues(xTicks).tickFormat((d, i) => xTickLabels[i])
      .tickSize(7).tickPadding(10));
  var ay = g.append("g").attr("transform", "translate(" + L + ",0)")
    .call(d3.axisLeft(y).tickValues(yTicks).tickFormat((d, i) => yLabels[i]).tickSize(7));
  [ax, ay].forEach(function (a) {
    a.select(".domain").remove();
    a.selectAll(".tick line").attr("stroke", "#333").attr("stroke-width", 2);
    a.selectAll(".tick text").attr("fill", "#4d4d4d").attr("font-size", 18)
      .attr("font-family", "Liberation Sans, Arial, sans-serif");
  });
  ay.selectAll(".tick text").attr("x", null).attr("dy", null)
    .attr("text-anchor", "middle").attr("transform", "translate(-13,0) rotate(-90)");

  // titles
  g.append("text").attr("x", 113).attr("y", top + 41).attr("font-size", 26).text("(" + tag + ")");
  unitTitle(g.append("text").attr("x", 369).attr("y", top + H + 70)
    .attr("text-anchor", "middle").attr("font-size", 23), "Mean daily streamflow");
  unitTitle(g.append("text").attr("text-anchor", "middle").attr("font-size", 23)
    .attr("transform", "translate(37," + (top + H / 2) + ") rotate(-90)"), "Streamflow forecast");
}

drawPanel(7, "a", yDomainA, yTicksA, yTickLabelsA, ptsA, fitA);
drawPanel(543, "b", yDomainB, yTicksB, yTickLabelsB, ptsB, fitB);
drawPanel(1079, "c", yDomainC, yTicksC, yTickLabelsC, ptsC, fitC);
</script>
</body>
</html>
